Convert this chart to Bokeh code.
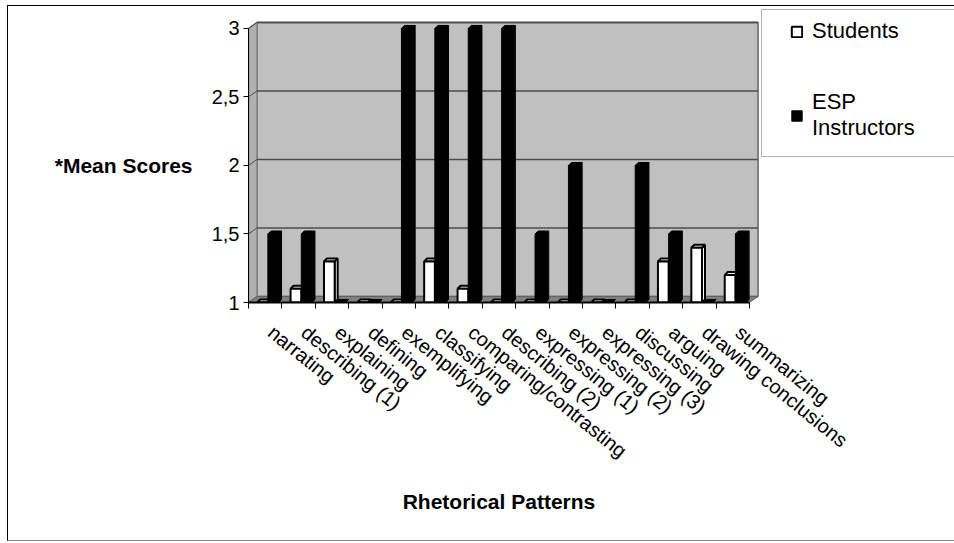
import math
from bokeh.plotting import figure
from bokeh.models import (FixedTicker, LinearAxis, Range1d, Legend, LegendItem,
                          BoxAnnotation, InlineStyleSheet)
from bokeh.embed import file_html
from bokeh.resources import INLINE

# ---------------- data ----------------
categories = ["narrating", "describing (1)", "explaining", "defining", "exemplifying",
              "classifying", "comparing/contrasting", "describing (2)", "expressing (1)",
              "expressing (2)", "expressing (3)", "discussing", "arguing",
              "drawing conclusions", "summarizing"]
students = [1.0, 1.1, 1.3, 1.0, 1.0, 1.3, 1.1, 1.0, 1.0, 1.0, 1.0, 1.0, 1.3, 1.4, 1.2]
instructors = [1.5, 1.5, 1.0, 1.0, 3.0, 3.0, 3.0, 3.0, 1.5, 2.0, 1.0, 2.0, 1.5, 1.0, 1.5]
y_ticks = [1.0, 1.5, 2.0, 2.5, 3.0]
y_tick_labels = ["1", "1,5", "2", "2,5", "3"]
series_names = ["Students", "ESP\nInstructors"]
x_title = "Rhetorical Patterns"
y_title = "*Mean Scores"

FONT = "Liberation Sans"
n = len(categories)
base = y_ticks[0]
top_val = y_ticks[-1]

# 3-D look parameters (in data units)
dx, dy = 0.255, 0.044      # wall depth
bdx, bdy = 0.09, 0.022     # bar depth
bw = 0.32                  # bar front width
w_off = 0.26               # offset of first bar in a category
label_shift = 0.17         # label anchors sit a little right of category centres

# frame: left 248 px, right = canvas edge, top = canvas top, bottom 302 px
p = figure(width=954, height=543, x_range=Range1d(0, 21.14), y_range=Range1d(1, 3.204),
           output_backend="svg", toolbar_location=None,
           min_border_left=248, min_border_right=0, min_border_top=0, min_border_bottom=241,
           x_axis_type=None, y_axis_type=None)
p.outline_line_color = None
p.background_fill_color = "white"
p.border_fill_color = "white"

# walls and floor
p.patch([dx, n + dx, n + dx, dx], [base + dy, base + dy, top_val + dy, top_val + dy],
        fill_color="#C0C0C0", line_color="#808080", line_width=2)
p.patch([0, dx, dx, 0], [base, base + dy, top_val + dy, top_val],
        fill_color="#B0B0B0", line_color="#808080", line_width=1.5)
p.patch([0, n, n + dx, dx], [base, base, base + dy, base + dy],
        fill_color="#808080", line_color="#606060", line_width=1)
grid_vals = y_ticks[1:]
p.multi_line([[dx, n + dx] for v in grid_vals], [[v + dy, v + dy] for v in grid_vals],
             line_color="#4D4D4D", line_width=1.5)
p.multi_line([[0, dx] for v in grid_vals], [[v, v + dy] for v in grid_vals],
             line_color="#4D4D4D", line_width=1)


def bars(values, offset, color, lw):
    x0 = [i + offset for i in range(n)]
    x1 = [a + bw for a in x0]
    side_xs = [[b, b + bdx, b + bdx, b] for b in x1]
    side_ys = [[base, base + bdy, v + bdy, v] for v in values]
    p.patches(side_xs, side_ys, fill_color=color, line_color="black", line_width=lw)
    top_xs = [[a, b, b + bdx, a + bdx] for a, b in zip(x0, x1)]
    top_ys = [[v, v, v + bdy, v + bdy] for v in values]
    p.patches(top_xs, top_ys, fill_color=color, line_color="black", line_width=lw)
    return p.quad(left=x0, right=x1, bottom=[base] * n, top=values,
                  fill_color=color, line_color="black", line_width=lw)


r_students = bars(students, w_off, "white", 2)
r_instr = bars(instructors, w_off + bw, "black", 1)

# y axis
yaxis = LinearAxis(ticker=FixedTicker(ticks=y_ticks),
                   major_label_overrides={t: lab for t, lab in zip(y_ticks, y_tick_labels)},
                   bounds=(base, top_val))
yaxis.major_tick_out = 5
yaxis.major_tick_in = 0
yaxis.minor_tick_line_color = None
yaxis.major_label_standoff = 4
yaxis.major_label_text_font = FONT
yaxis.major_label_text_font_size = "20px"
yaxis.major_label_text_color = "black"
yaxis.axis_line_color = "black"
yaxis.major_tick_line_color = "black"
p.add_layout(yaxis, "left")

# horizontal y title, level with tick "2"
ytitle_axis = LinearAxis(ticker=FixedTicker(ticks=[y_ticks[2]]),
                         major_label_overrides={y_ticks[2]: y_title})
ytitle_axis.axis_line_color = None
ytitle_axis.major_tick_line_color = None
ytitle_axis.minor_tick_line_color = None
ytitle_axis.major_tick_out = 0
ytitle_axis.major_tick_in = 0
ytitle_axis.major_label_standoff = 16
ytitle_axis.major_label_text_font = FONT
ytitle_axis.major_label_text_font_size = "21px"
ytitle_axis.major_label_text_font_style = "bold"
ytitle_axis.major_label_text_color = "black"
p.add_layout(ytitle_axis, "left")

# x axis: tick marks between categories, rotated names
label_pos = [i + 0.5 + label_shift for i in range(n)]
xaxis = LinearAxis(ticker=FixedTicker(ticks=label_pos, minor_ticks=list(range(n + 1))),
                   major_label_overrides={c: lab for c, lab in zip(label_pos, categories)},
                   bounds=(0, n))
xaxis.major_label_orientation = -math.radians(39)
xaxis.major_tick_line_color = None
xaxis.major_tick_out = 6
xaxis.major_tick_in = 0
xaxis.minor_tick_out = 6
xaxis.minor_tick_in = 0
xaxis.minor_tick_line_color = "black"
xaxis.major_label_standoff = 21
xaxis.major_label_text_font = FONT
xaxis.major_label_text_font_size = "20px"
xaxis.major_label_text_color = "black"
xaxis.axis_line_color = "black"
xaxis.axis_line_width = 2
p.add_layout(xaxis, "below")

# x title, centred under the category span
xtitle_axis = LinearAxis(ticker=FixedTicker(ticks=[n / 2]),
                         major_label_overrides={n / 2: x_title})
xtitle_axis.axis_line_color = None
xtitle_axis.major_tick_line_color = None
xtitle_axis.minor_tick_line_color = None
xtitle_axis.major_tick_out = 0
xtitle_axis.major_tick_in = 0
xtitle_axis.major_label_standoff = 16
xtitle_axis.major_label_text_font = FONT
xtitle_axis.major_label_text_font_size = "21px"
xtitle_axis.major_label_text_font_style = "bold"
xtitle_axis.major_label_text_color = "black"
p.add_layout(xtitle_axis, "below")

# legend box (frame-relative screen units)
p.add_layout(BoxAnnotation(left=761 - 248, right=1000, bottom=302 - 156, top=302 - 9,
                           left_units="screen", right_units="screen",
                           top_units="screen", bottom_units="screen",
                           fill_color="white", fill_alpha=1, line_color="black", line_width=1))

legend = Legend(items=[LegendItem(label=series_names[0], renderers=[r_students]),
                       LegendItem(label=series_names[1], renderers=[r_instr])],
                location=(790 - 248, 161), padding=0, margin=0, spacing=45,
                glyph_width=13, glyph_height=13, label_standoff=9,
                label_text_font=FONT, label_text_font_size="22px", label_text_color="black",
                border_line_color=None, background_fill_alpha=0)
p.add_layout(legend)

# outer chart border (drawn over the canvas with CSS)
p.stylesheets = [InlineStyleSheet(css="""
:host { position: relative; }
:host::after { content: ""; position: absolute; left: 7px; top: 5px; width: 947px; height: 536px;
  box-sizing: border-box; border-left: 1px solid #000; border-top: 1px solid #000;
  border-bottom: 1px solid #888; pointer-events: none; }
""")]

open("out.html", "w").write(file_html(p, INLINE))
